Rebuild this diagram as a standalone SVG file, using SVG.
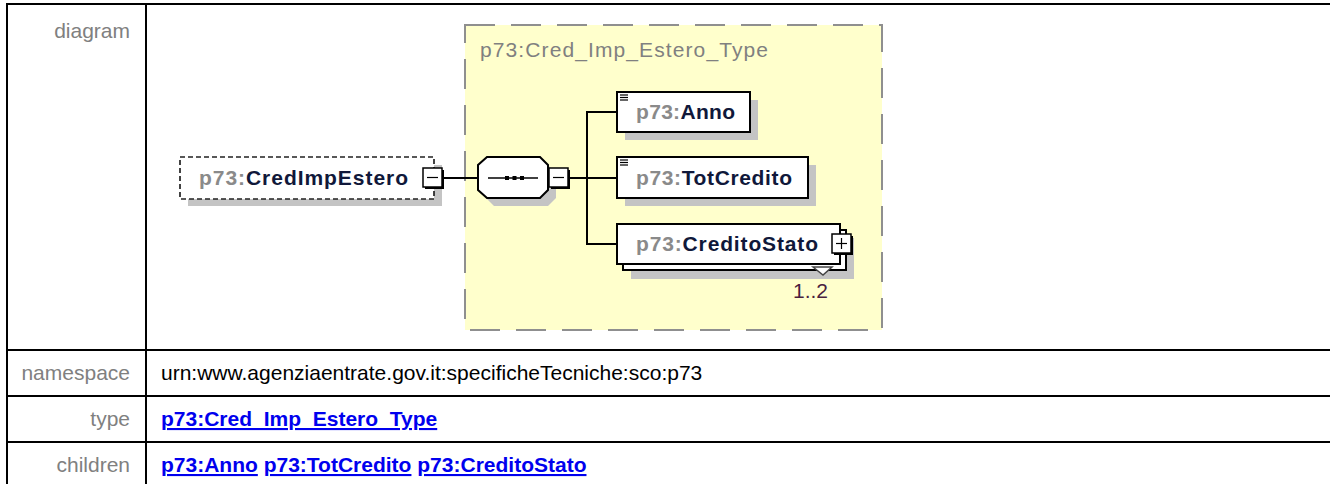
<svg xmlns="http://www.w3.org/2000/svg" width="1330" height="484" viewBox="0 0 1330 484">
<style>
.tl{stroke:#000;stroke-width:2;fill:none}
.lbl{font-family:"Liberation Sans",Arial,sans-serif;font-size:21px;fill:#808080;text-anchor:end}
.val{font-family:"Liberation Sans",Arial,sans-serif;font-size:21px;fill:#000}
.lnk{font-weight:bold;fill:#0000ee}
.u{text-decoration:underline}
.nm{font-family:"Liberation Sans",Arial,sans-serif;font-size:21px;font-weight:bold;fill:#10183a}
.pf{fill:#8a8a8a}
.box{fill:#fff;stroke:#000;stroke-width:2}
.shd{fill:#c4c4c4}
.con{stroke:#000;stroke-width:2;fill:none}
.btn{fill:#fff;stroke:#000;stroke-width:1.5}
.bsh{fill:#000}
.ico{stroke:#000;stroke-width:1.2}
</style>
<rect x="0" y="0" width="1330" height="484" fill="#fff"/>
<g id="table">
<line class="tl" x1="6" y1="4" x2="1330" y2="4"/>
<line class="tl" x1="7" y1="3" x2="7" y2="484"/>
<line class="tl" x1="146" y1="4" x2="146" y2="484"/>
<line class="tl" x1="6" y1="350" x2="1330" y2="350"/>
<line class="tl" x1="6" y1="396" x2="1330" y2="396"/>
<line class="tl" x1="6" y1="442" x2="1330" y2="442"/>
<text class="lbl" x="130" y="38">diagram</text>
<text class="lbl" x="130" y="380">namespace</text>
<text class="lbl" x="130" y="426">type</text>
<text class="lbl" x="130" y="472">children</text>
<text class="val" x="161" y="380">urn:www.agenziaentrate.gov.it:specificheTecniche:sco:p73</text>
<text class="val lnk" x="161" y="426"><tspan class="u">p73:Cred_Imp_Estero_Type</tspan></text>
<text class="val lnk" x="161" y="472"><tspan class="u">p73:Anno</tspan> <tspan class="u">p73:TotCredito</tspan> <tspan class="u">p73:CreditoStato</tspan></text>
</g>
<g id="complexType">
<rect x="465" y="25" width="417" height="305" fill="#ffffcc" stroke="#8f8f8f" stroke-width="2" stroke-dasharray="30,16"/>
<text x="480" y="57" font-family="Liberation Sans, Arial, sans-serif" font-size="21" fill="#808080" textLength="288" lengthAdjust="spacing">p73:Cred_Imp_Estero_Type</text>
</g>
<g id="connectors">
<line class="con" x1="443" y1="178" x2="478" y2="178"/>
<line class="con" x1="568" y1="178" x2="587" y2="178"/>
<line class="con" x1="587" y1="111" x2="587" y2="245"/>
<line class="con" x1="586" y1="112" x2="617" y2="112"/>
<line class="con" x1="587" y1="178" x2="617" y2="178"/>
<line class="con" x1="586" y1="244" x2="617" y2="244"/>
</g>
<g id="CredImpEstero">
<rect class="shd" x="188" y="165" width="254" height="41"/>
<rect x="180" y="157" width="254" height="42" fill="#fff" stroke="#222" stroke-width="1.7" stroke-dasharray="5,3"/>
<text class="nm" x="199" y="185" textLength="209" lengthAdjust="spacing"><tspan class="pf">p73:</tspan>CredImpEstero</text>
<rect class="bsh" x="425" y="170" width="19" height="19"/>
<rect class="btn" x="423" y="168" width="19" height="19"/>
<line class="ico" x1="427" y1="177.5" x2="438" y2="177.5" stroke-width="1.5"/>
</g>
<g id="sequence">
<polygon class="shd" points="494,165 548,165 556,173 556,198 548,206 494,206 486,198 486,173"/>
<polygon class="box" points="487,157 540,157 548,165 548,190 540,198 487,198 478,190 478,165"/>
<line x1="488" y1="178" x2="538" y2="178" stroke="#000" stroke-width="1.5"/>
<rect x="505" y="176" width="4" height="4" fill="#000"/>
<rect x="512.5" y="176" width="4" height="4" fill="#000"/>
<rect x="520" y="176" width="4" height="4" fill="#000"/>
<rect class="bsh" x="551" y="170" width="19" height="19"/>
<rect class="btn" x="549" y="168" width="19" height="19"/>
<line class="ico" x1="553" y1="177.5" x2="564" y2="177.5" stroke-width="1.5"/>
</g>
<g id="Anno">
<rect class="shd" x="625" y="100" width="133" height="40"/>
<rect class="box" x="617" y="92" width="133" height="40"/>
<line class="ico" x1="620" y1="95" x2="628" y2="95"/>
<line class="ico" x1="620" y1="97.5" x2="628" y2="97.5"/>
<line class="ico" x1="620" y1="100" x2="628" y2="100"/>
<text class="nm" x="636" y="119" textLength="99" lengthAdjust="spacing"><tspan class="pf">p73:</tspan>Anno</text>
</g>
<g id="TotCredito">
<rect class="shd" x="625" y="165" width="191" height="41"/>
<rect class="box" x="617" y="157" width="191" height="41"/>
<line class="ico" x1="620" y1="160" x2="628" y2="160"/>
<line class="ico" x1="620" y1="162.5" x2="628" y2="162.5"/>
<line class="ico" x1="620" y1="165" x2="628" y2="165"/>
<text class="nm" x="636" y="185" textLength="156" lengthAdjust="spacing"><tspan class="pf">p73:</tspan>TotCredito</text>
</g>
<g id="CreditoStato">
<rect class="shd" x="631" y="238" width="223" height="41"/>
<rect class="box" x="623" y="230" width="223" height="40"/>
<rect class="box" x="617" y="224" width="223" height="40"/>
<polygon points="813,267 823,275 832,267" fill="#fff" stroke="#444" stroke-width="1.5"/>
<text class="nm" x="636" y="251" textLength="182" lengthAdjust="spacing"><tspan class="pf">p73:</tspan>CreditoStato</text>
<rect class="bsh" x="834" y="236" width="19" height="19"/>
<rect class="btn" x="832" y="234" width="19" height="19"/>
<line class="ico" x1="836" y1="243.5" x2="847" y2="243.5" stroke-width="1.5"/>
<line class="ico" x1="841.5" y1="238" x2="841.5" y2="249" stroke-width="1.5"/>
<text x="793" y="298" font-family="Liberation Sans, Arial, sans-serif" font-size="21" fill="#4a1f3f">1..2</text>
</g>
</svg>
